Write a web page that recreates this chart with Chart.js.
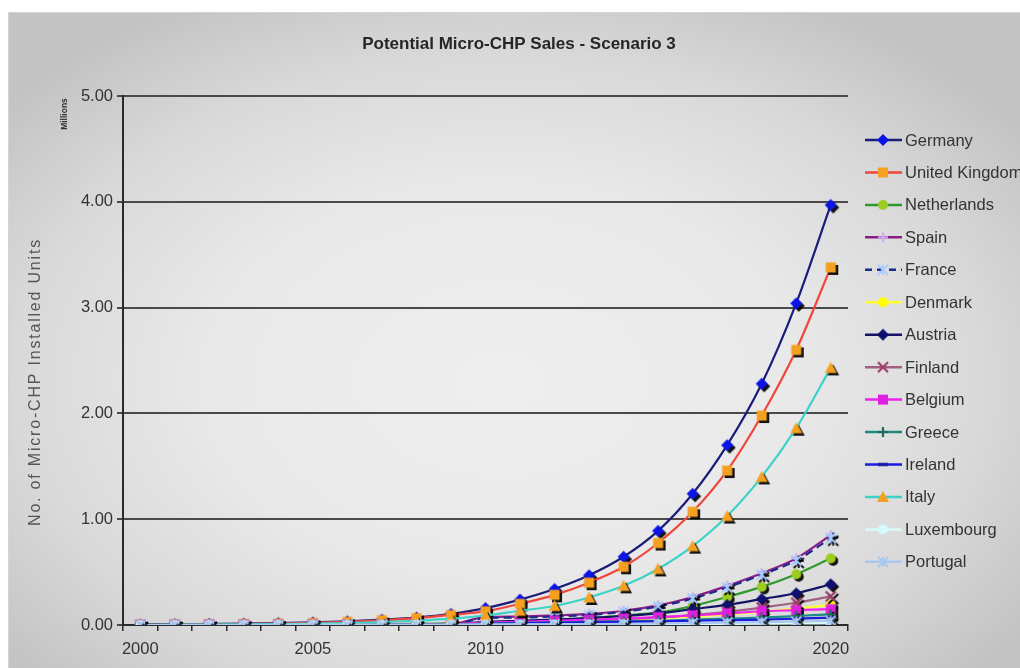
<!DOCTYPE html>
<html>
<head>
<meta charset="utf-8">
<script src="https://cdn.jsdelivr.net/npm/chart.js@4/dist/chart.umd.min.js"></script>
<style>
  html, body { margin: 0; padding: 0; background: #ffffff; }
  #wrap { position: relative; width: 1020px; height: 668px; }
  canvas { display: block; }
</style>
</head>
<body>
<div id="wrap"><canvas id="chart" width="1020" height="668"></canvas></div>
<script>
// Installed micro-CHP units, millions, per country
const years = ['2000','2001','2002','2003','2004','2005','2006','2007','2008','2009','2010',
               '2011','2012','2013','2014','2015','2016','2017','2018','2019','2020'];
const countries = ['Germany','United Kingdom','Netherlands','Spain','France','Denmark','Austria',
                   'Finland','Belgium','Greece','Ireland','Italy','Luxembourg','Portugal'];

const germany     = [0.005,0.007,0.010,0.013,0.018,0.025,0.035,0.050,0.070,0.105,0.160,0.240,0.340,0.470,0.645,0.890,1.240,1.700,2.280,3.040,3.970];
const unitedKingdom = [0.003,0.005,0.007,0.010,0.014,0.020,0.030,0.045,0.065,0.095,0.130,0.200,0.285,0.400,0.550,0.775,1.070,1.460,1.980,2.600,3.380];
const netherlands = [0.001,0.002,0.002,0.003,0.004,0.005,0.007,0.009,0.012,0.016,0.022,0.030,0.045,0.065,0.090,0.120,0.180,0.265,0.360,0.480,0.630];
const spain       = [0.001,0.001,0.002,0.002,0.003,0.004,0.005,0.006,0.008,0.010,0.075,0.080,0.090,0.105,0.135,0.185,0.265,0.370,0.490,0.630,0.850];
const france      = [0.001,0.001,0.001,0.002,0.002,0.003,0.004,0.005,0.006,0.008,0.065,0.070,0.080,0.095,0.125,0.175,0.250,0.355,0.475,0.610,0.820];
const denmark     = [0.000,0.000,0.001,0.001,0.001,0.002,0.002,0.003,0.004,0.005,0.020,0.025,0.030,0.040,0.050,0.065,0.080,0.100,0.125,0.155,0.190];
const austria     = [0.001,0.001,0.001,0.002,0.002,0.003,0.003,0.004,0.005,0.006,0.030,0.040,0.050,0.065,0.085,0.110,0.150,0.190,0.245,0.300,0.385];
const finland     = [0.000,0.000,0.001,0.001,0.001,0.001,0.002,0.002,0.003,0.004,0.020,0.025,0.030,0.040,0.055,0.070,0.095,0.125,0.165,0.210,0.270];
const belgium     = [0.000,0.000,0.001,0.001,0.001,0.001,0.002,0.002,0.003,0.004,0.025,0.030,0.040,0.050,0.060,0.075,0.090,0.110,0.130,0.140,0.150];
const greece      = [0.000,0.000,0.000,0.001,0.001,0.001,0.001,0.002,0.002,0.003,0.015,0.020,0.025,0.030,0.035,0.040,0.050,0.060,0.070,0.085,0.100];
const ireland     = [0.000,0.000,0.000,0.000,0.001,0.001,0.001,0.001,0.002,0.002,0.010,0.015,0.020,0.025,0.030,0.035,0.040,0.045,0.050,0.060,0.070];
const italy       = [0.002,0.003,0.004,0.006,0.009,0.013,0.019,0.028,0.040,0.060,0.090,0.135,0.180,0.260,0.370,0.530,0.745,1.030,1.400,1.860,2.430];
const luxembourg  = [0.000,0.000,0.000,0.000,0.000,0.001,0.001,0.001,0.001,0.002,0.003,0.003,0.004,0.005,0.006,0.007,0.008,0.010,0.012,0.014,0.017];
const portugal    = [0.000,0.000,0.000,0.000,0.001,0.001,0.001,0.001,0.002,0.002,0.004,0.005,0.007,0.009,0.011,0.014,0.018,0.022,0.027,0.033,0.040];

const yTicks = [0, 1, 2, 3, 4, 5];

const seriesValues = [germany, unitedKingdom, netherlands, spain, france, denmark, austria,
                      finland, belgium, greece, ireland, italy, luxembourg, portugal];

// line colour, marker shape, marker fill, dash pattern
const looks = [
  { line: '#1c1c7a', shape: 'diamond',  fill: '#0a14e6', dash: [] },
  { line: '#f0463c', shape: 'square',   fill: '#f5a020', dash: [] },
  { line: '#2e9a2e', shape: 'circle',   fill: '#9ccc1e', dash: [] },
  { line: '#8a1c8a', shape: 'plus',     fill: '#d2a8f0', dash: [] },
  { line: '#1c2a8a', shape: 'star',     fill: '#a8ccff', dash: [8, 5] },
  { line: '#ffff30', shape: 'circle',   fill: '#ffff00', dash: [] },
  { line: '#141464', shape: 'diamond',  fill: '#101070', dash: [] },
  { line: '#a06080', shape: 'cross',    fill: '#a03c6a', dash: [] },
  { line: '#f020f0', shape: 'square',   fill: '#e020e0', dash: [] },
  { line: '#1e8a80', shape: 'plus',     fill: '#1e6a60', dash: [] },
  { line: '#1a1ae0', shape: 'dash',     fill: '#1a1a9a', dash: [] },
  { line: '#3cd2c8', shape: 'triangle', fill: '#f5a020', dash: [] },
  { line: '#d8fafa', shape: 'circle',   fill: '#d8fafa', dash: [] },
  { line: '#a8c8f0', shape: 'star',     fill: '#a8c8f0', dash: [] }
];

function paintShape(g, kind, x, y, s, col) {
  const h = s / 2;
  g.fillStyle = col; g.strokeStyle = col;
  g.beginPath();
  if (kind === 'diamond') {
    g.moveTo(x, y - h - 1); g.lineTo(x + h + 1, y); g.lineTo(x, y + h + 1); g.lineTo(x - h - 1, y);
    g.closePath(); g.fill();
  } else if (kind === 'square') {
    g.rect(x - h, y - h, s, s); g.fill();
  } else if (kind === 'triangle') {
    g.moveTo(x, y - h - 1); g.lineTo(x + h + 1, y + h); g.lineTo(x - h - 1, y + h);
    g.closePath(); g.fill();
  } else if (kind === 'circle') {
    g.arc(x, y, h, 0, Math.PI * 2); g.fill();
  } else if (kind === 'cross') {
    g.lineWidth = 2.2;
    g.moveTo(x - h, y - h); g.lineTo(x + h, y + h); g.moveTo(x + h, y - h); g.lineTo(x - h, y + h);
    g.stroke();
  } else if (kind === 'plus') {
    g.lineWidth = 2.2;
    g.moveTo(x - h, y); g.lineTo(x + h, y); g.moveTo(x, y - h); g.lineTo(x, y + h);
    g.stroke();
  } else if (kind === 'star') {
    g.lineWidth = 1.8;
    g.moveTo(x - h, y - h); g.lineTo(x + h, y + h); g.moveTo(x + h, y - h); g.lineTo(x - h, y + h);
    g.moveTo(x, y - h); g.lineTo(x, y + h);
    g.stroke();
  } else if (kind === 'dash') {
    g.lineWidth = 3;
    g.moveTo(x - h, y); g.lineTo(x + h, y);
    g.stroke();
  }
}

function markerImage(kind, fill, withShadow) {
  const size = 10, off = withShadow ? 2.5 : 0;
  const S = Math.ceil(size + 2 * off + 6);
  const cv = document.createElement('canvas');
  cv.width = S; cv.height = S;
  const g = cv.getContext('2d');
  const c = S / 2;
  if (withShadow) paintShape(g, kind, c + off, c + off, size, 'rgba(0,0,0,0.92)');
  paintShape(g, kind, c, c, size, fill);
  return cv;
}

const pointImages = looks.map(l => markerImage(l.shape, l.fill, true));
const keyImages = looks.map(l => markerImage(l.shape, l.fill, false));

const datasets = countries.map((name, i) => ({
  label: name,
  data: seriesValues[i],
  borderColor: looks[i].line,
  backgroundColor: looks[i].fill,
  borderWidth: 2.2,
  borderDash: looks[i].dash,
  cubicInterpolationMode: 'monotone',
  pointStyle: pointImages[i],
  pointRadius: 5,
  pointHoverRadius: 5,
  fill: false,
  order: countries.length - i
}));

const FONT = '"Liberation Sans", Arial, sans-serif';
const LABEL_SIZE = 16.5;

// gray panel with a soft centre-lit gradient
const panelBackground = {
  id: 'panelBackground',
  beforeDraw(chart) {
    const ctx = chart.ctx;
    ctx.save();
    ctx.fillStyle = '#ffffff';
    ctx.fillRect(0, 0, chart.width, chart.height);
    const x0 = 8, y0 = 12, w = chart.width - x0, h = chart.height - y0;
    const cx = 500, cy = 380, rx = 640, ry = 430;
    ctx.beginPath();
    ctx.rect(x0, y0, w, h);
    ctx.clip();
    ctx.translate(cx, cy);
    ctx.scale(1, ry / rx);
    const grad = ctx.createRadialGradient(0, 0, 0, 0, 0, rx);
    grad.addColorStop(0, '#eeeeee');
    grad.addColorStop(0.45, '#e9e9e9');
    grad.addColorStop(0.75, '#d9d9d9');
    grad.addColorStop(1, '#c3c3c3');
    ctx.fillStyle = grad;
    ctx.fillRect(-cx, -cy * rx / ry, chart.width * 2, chart.height * 2 * rx / ry);
    ctx.restore();
    ctx.save();
    ctx.strokeStyle = '#d4d4d4';
    ctx.lineWidth = 1;
    ctx.strokeRect(x0 + 0.5, y0 + 0.5, w, h);
    ctx.restore();
  }
};

// title, axis caption, units note and the series key on the right
const chartText = {
  id: 'chartText',
  afterDraw(chart) {
    const ctx = chart.ctx;
    ctx.save();
    ctx.fillStyle = '#262626';
    ctx.font = 'bold 17px ' + FONT;
    ctx.textAlign = 'center';
    ctx.textBaseline = 'middle';
    ctx.fillText('Potential Micro-CHP Sales - Scenario 3', 519, 44);

    ctx.save();
    ctx.translate(65, 114);
    ctx.rotate(-Math.PI / 2);
    ctx.font = 'bold 8.5px ' + FONT;
    ctx.fillStyle = '#333333';
    ctx.fillText('Millions', 0, 0);
    ctx.restore();

    ctx.save();
    ctx.translate(36, 382);
    ctx.rotate(-Math.PI / 2);
    ctx.font = '16px ' + FONT;
    if ('letterSpacing' in ctx) ctx.letterSpacing = '1.8px';
    ctx.fillStyle = '#555555';
    ctx.fillText('No. of Micro-CHP Installed Units', 0, 0);
    ctx.restore();

    const top = 140, step = 32.45;
    chart.data.datasets.forEach((ds, i) => {
      const y = top + i * step;
      ctx.save();
      ctx.strokeStyle = ds.borderColor;
      ctx.lineWidth = 2.5;
      ctx.setLineDash(looks[i].dash.length ? [7, 5] : []);
      ctx.beginPath();
      ctx.moveTo(865, y);
      ctx.lineTo(902, y);
      ctx.stroke();
      ctx.restore();
      const img = keyImages[i];
      ctx.drawImage(img, 883 - img.width / 2, y - img.height / 2);
      ctx.fillStyle = '#333333';
      ctx.font = LABEL_SIZE + 'px ' + FONT;
      ctx.textAlign = 'left';
      ctx.textBaseline = 'middle';
      ctx.fillText(ds.label, 905, y + 1);
    });
    ctx.restore();
  }
};

new Chart(document.getElementById('chart'), {
  type: 'line',
  data: { labels: years, datasets },
  options: {
    responsive: false,
    animation: false,
    devicePixelRatio: 1,
    events: [],
    layout: { padding: { left: 0, right: 172, top: 96, bottom: 0 } },
    plugins: {
      legend: { display: false },
      title: { display: false },
      tooltip: { enabled: false }
    },
    scales: {
      x: {
        type: 'category',
        offset: true,
        afterFit(scale) { scale.height = 43; },
        grid: { offset: true, drawOnChartArea: false, tickLength: 6, color: '#2a2a2a', lineWidth: 1.5 },
        border: { display: true, color: '#2a2a2a', width: 2 },
        ticks: {
          autoSkip: false,
          maxRotation: 0,
          padding: 9,
          color: '#333333',
          font: { family: FONT, size: LABEL_SIZE },
          callback(value) {
            const lab = this.getLabelForValue(value);
            return (Number(lab) % 5 === 0) ? lab : '';
          }
        }
      },
      y: {
        min: yTicks[0],
        max: yTicks[yTicks.length - 1],
        afterFit(scale) { scale.width = 123; },
        afterBuildTicks(scale) { scale.ticks = yTicks.map(v => ({ value: v })); },
        grid: { color: '#4a4a4a', lineWidth: 2, tickLength: 6 },
        border: { display: true, color: '#2a2a2a', width: 2 },
        ticks: {
          padding: 4,
          color: '#333333',
          font: { family: FONT, size: LABEL_SIZE },
          callback(v) { return Number(v).toFixed(2); }
        },
        title: { display: false }
      }
    }
  },
  plugins: [panelBackground, chartText]
});
</script>
</body>
</html>
